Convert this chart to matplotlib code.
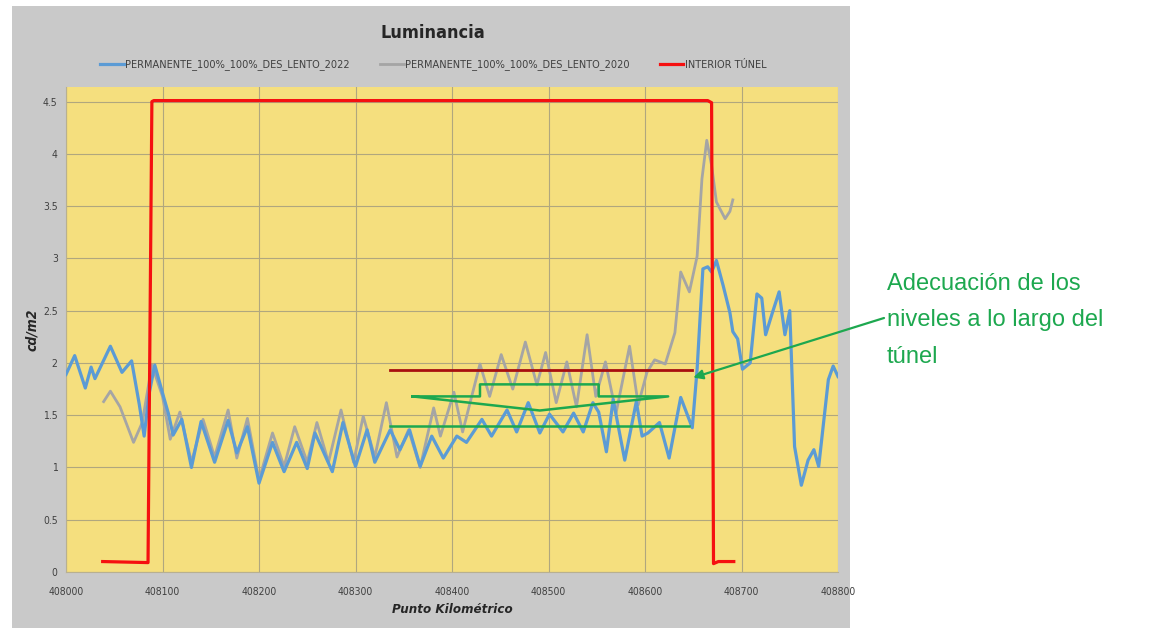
import matplotlib.pyplot as plt
from matplotlib.patches import Rectangle
from matplotlib.font_manager import FontProperties

# Data
pk_2022 = [408000, 408009, 408020, 408026, 408030, 408046, 408058, 408068, 408076, 408081,
           408086, 408092, 408101, 408106, 408111, 408120, 408130, 408140, 408154, 408168,
           408177, 408188, 408200, 408214, 408226, 408239, 408250, 408258, 408276, 408287,
           408300, 408312, 408320, 408336, 408346, 408356, 408367, 408379, 408391, 408405,
           408415, 408431, 408441, 408457, 408467, 408479, 408491, 408501, 408515, 408526,
           408536, 408546, 408552, 408560, 408567, 408579, 408591, 408597, 408603, 408615,
           408625, 408637, 408649, 408654, 408660, 408665, 408669, 408674, 408681, 408688,
           408691, 408696, 408701, 408709, 408716, 408721, 408725, 408732, 408739, 408745,
           408750, 408755, 408762, 408769, 408775, 408780, 408790, 408795, 408800]
lum_2022 = [1.89, 2.07, 1.76, 1.96, 1.85, 2.16, 1.91, 2.02, 1.60, 1.30,
            1.70, 1.98, 1.68, 1.52, 1.31, 1.46, 1.00, 1.44, 1.05, 1.45,
            1.14, 1.39, 0.85, 1.24, 0.96, 1.24, 0.99, 1.33, 0.96, 1.43,
            1.01, 1.36, 1.05, 1.36, 1.17, 1.36, 1.01, 1.30, 1.09, 1.30,
            1.24, 1.46, 1.30, 1.55, 1.34, 1.62, 1.33, 1.51, 1.34, 1.52,
            1.34, 1.62, 1.53, 1.15, 1.65, 1.07, 1.63, 1.30, 1.33, 1.43,
            1.09, 1.67, 1.38, 1.94, 2.90, 2.92, 2.87, 2.98, 2.74, 2.48,
            2.30, 2.23, 1.94, 2.00, 2.66, 2.62, 2.27, 2.48, 2.68, 2.27,
            2.50, 1.20, 0.83, 1.07, 1.17, 1.01, 1.84, 1.97, 1.87]

pk_2020 = [408039, 408046, 408056, 408070, 408079, 408089, 408100, 408108, 408118, 408130,
           408142, 408154, 408168, 408177, 408188, 408200, 408214, 408226, 408237, 408250,
           408260, 408272, 408285, 408298, 408308, 408320, 408332, 408343, 408355, 408367,
           408381, 408388, 408402, 408411, 408429, 408439, 408451, 408463, 408476, 408488,
           408497, 408508, 408519, 408529, 408540, 408549, 408559, 408570, 408584, 408593,
           408602, 408610, 408621, 408631, 408637, 408646, 408654, 408659, 408664, 408669,
           408674, 408683, 408688, 408691]
lum_2020 = [1.63, 1.73, 1.58, 1.24, 1.43, 1.98, 1.68, 1.27, 1.53, 1.05,
            1.46, 1.10, 1.55, 1.09, 1.47, 0.88, 1.33, 1.01, 1.39, 1.05,
            1.43, 1.05, 1.55, 1.05, 1.49, 1.10, 1.62, 1.10, 1.36, 1.00,
            1.57, 1.30, 1.72, 1.34, 1.99, 1.68, 2.08, 1.75, 2.20, 1.79,
            2.10, 1.62, 2.01, 1.58, 2.27, 1.68, 2.01, 1.52, 2.16, 1.60,
            1.91, 2.03, 1.99, 2.29, 2.87, 2.68, 3.02, 3.76, 4.13, 3.89,
            3.54, 3.38, 3.45, 3.56]

pk_tunel = [408038, 408085, 408089, 408091, 408665, 408669, 408671, 408676, 408692]
lum_tunel = [0.10, 0.09, 4.50, 4.51, 4.51, 4.49, 0.08, 0.10, 0.10]

# hand-drawn marks over the chart
top_line_x = [408336, 408649]
top_line_y = [1.93, 1.93]
low_line_x = [408336, 408646]
low_line_y = [1.40, 1.40]
hat_x = [408359, 408429, 408429, 408552, 408552, 408624, 408491, 408359]
hat_y = [1.68, 1.68, 1.795, 1.795, 1.68, 1.68, 1.545, 1.68]
arrow_tip = (408650, 1.86)

labels = ['PERMANENTE_100%_100%_DES_LENTO_2022',
          'PERMANENTE_100%_100%_DES_LENTO_2020',
          'INTERIOR TÚNEL']
x_ticks = list(range(408000, 408801, 100))
y_ticks = [0, 0.5, 1, 1.5, 2, 2.5, 3, 3.5, 4, 4.5]


def narrow(size, weight='normal', style='normal'):
    return FontProperties(family='DejaVu Sans', stretch='condensed', size=size,
                          weight=weight, style=style)


green = '#1da84f'

fig = plt.figure(figsize=(11.55, 6.3), dpi=100)
fig.patches.append(Rectangle((12 / 1155, 2 / 630), 838 / 1155, 622 / 630,
                             transform=fig.transFigure, facecolor='#c9c9c9',
                             edgecolor='none', zorder=-10))

ax = fig.add_axes([66 / 1155, 58 / 630, 772 / 1155, 485 / 630])
ax.set_facecolor('#f5df7e')
ax.set_xlim(408000, 408800)
ax.set_ylim(0, 4.64)
ax.set_xticks(x_ticks)
ax.set_yticks(y_ticks)
ax.set_xticklabels([str(v) for v in x_ticks])
ax.set_yticklabels(['0', '0.5', '1', '1.5', '2', '2.5', '3', '3.5', '4', '4.5'])
ax.tick_params(length=0, labelcolor='#404040')
ax.tick_params(axis='x', pad=11)
ax.tick_params(axis='y', pad=6)
for lab in ax.get_xticklabels() + ax.get_yticklabels():
    lab.set_fontproperties(narrow(7.5))
ax.grid(True, color='#b0a77e', linewidth=0.8)
ax.set_axisbelow(True)
for s in ['top', 'right']:
    ax.spines[s].set_visible(False)
for s in ['left', 'bottom']:
    ax.spines[s].set_color('#b8b090')
    ax.spines[s].set_linewidth(0.8)

l1, = ax.plot(pk_2022, lum_2022, color='#5b9bd5', lw=2.3, solid_joinstyle='round', zorder=4)
l2, = ax.plot(pk_2020, lum_2020, color='#a5a5a5', lw=2.0, solid_joinstyle='round', zorder=3)
l3, = ax.plot(pk_tunel, lum_tunel, color='#f51010', lw=2.3, zorder=5)

ax.plot(top_line_x, top_line_y, color='#a80f0f', lw=2.0, zorder=6)
ax.plot(low_line_x, low_line_y, color=green, lw=1.8, zorder=6)
ax.plot(hat_x, hat_y, color=green, lw=1.8, zorder=6)

ax.annotate('', xy=arrow_tip, xycoords='data',
            xytext=(884, 630 - 318), textcoords='figure pixels',
            arrowprops=dict(arrowstyle='-|>', color=green, lw=1.6,
                            mutation_scale=14, shrinkA=0, shrinkB=0),
            annotation_clip=False, zorder=7)

ax.set_xlabel('Punto Kilométrico', fontproperties=narrow(9.5, 'bold', 'italic'),
              color='#262626', labelpad=4)
ax.set_ylabel('cd/m2', fontproperties=narrow(10, 'bold', 'italic'),
              color='#262626', labelpad=3)

fig.text(433 / 1155, 1 - 33 / 630, 'Luminancia', ha='center', va='center',
         fontproperties=narrow(13, 'bold'), color='#262626')

fig.legend([l1, l2, l3], labels, loc='center', bbox_to_anchor=(433 / 1155, 1 - 65 / 630),
           ncol=3, frameon=False, handlelength=2.2, handletextpad=0.1,
           columnspacing=2.8, prop=narrow(7.8), labelcolor='#404040')

fig.text(887 / 1155, 1 - 273 / 630, 'Adecuación de los\nniveles a lo largo del\ntúnel',
         ha='left', va='top', fontsize=17, family='Liberation Sans', color=green,
         linespacing=1.85)

plt.savefig('out.png', dpi=100)
